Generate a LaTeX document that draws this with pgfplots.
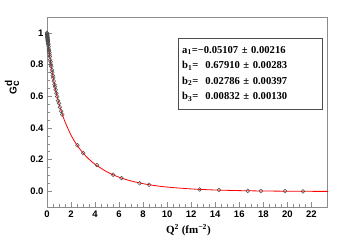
\documentclass[border=0pt]{standalone}
\usepackage{fontspec}
\setmainfont{Liberation Serif}
\setsansfont{Liberation Sans}
\usepackage{pgfplots}
\pgfplotsset{compat=1.18}
\pgfplotstableread{
q g
0.003 1.000
0.008 0.995
0.012 0.990
0.018 0.985
0.025 0.982
0.030 0.975
0.035 0.972
0.040 0.968
0.050 0.963
0.055 0.958
0.065 0.952
0.070 0.949
0.080 0.944
0.090 0.935
0.100 0.930
0.110 0.925
0.130 0.912
0.150 0.897
0.170 0.888
0.190 0.876
0.210 0.862
0.240 0.850
0.270 0.830
0.300 0.818
0.330 0.800
0.360 0.788
0.400 0.765
0.440 0.750
0.480 0.730
0.520 0.715
0.570 0.695
0.620 0.673
0.670 0.660
0.720 0.640
0.780 0.618
0.850 0.598
0.920 0.572
1.000 0.555
1.080 0.530
1.170 0.505
1.270 0.483
2.52 0.290
3.02 0.240
4.15 0.165
5.50 0.104
6.20 0.082
7.70 0.050
8.50 0.040
12.7 0.011
14.3 0.007
16.7 0.002
17.8 0.001
19.8 0.000
21.3 -0.001
}\datatab
\pgfplotstableread{
q g
0.0 1.0000
0.1 0.9314
0.2 0.8705
0.3 0.8162
0.4 0.7673
0.5 0.7231
0.75 0.6292
1.0 0.5532
1.25 0.4905
1.5 0.4378
2.0 0.3540
2.5 0.2906
3.0 0.2411
3.5 0.2015
4.0 0.1695
5.0 0.1214
6.0 0.0881
7.0 0.0644
8.0 0.0474
9.0 0.0350
10.0 0.0259
12.0 0.0141
14.0 0.0074
16.0 0.0035
18.0 0.0011
20.0 -0.0002
22.0 -0.0011
23.4 -0.0014
}\fittab
\begin{document}
\begin{tikzpicture}
\begin{axis}[name=ax,
  scale only axis, width=280pt, height=190pt,
  xmin=0, xmax=23.3, ymin=-0.1, ymax=1.1,
  xtick={0,2,...,22}, ytick={0,0.2,...,1.0},
  minor x tick num=3, minor y tick num=3,
  tick pos=left, tick align=inside,
  major tick length=5pt, minor tick length=3pt,
  axis line style={black!45}, tick style={black!45},
  ticklabel style={font=\sffamily\bfseries\fontsize{9.5}{10}\selectfont},
  /pgf/number format/assume math mode=true,
  yticklabel style={/pgf/number format/.cd, fixed, fixed zerofill, precision=1},
  xticklabel style={/pgf/number format/.cd, fixed, precision=0},
  yticklabels={0.0,0.2,0.4,0.6,0.8,1},
  every axis x label/.style={at={(rel axis cs:0.505,0)}, anchor=center, yshift=-23pt},
  every axis y label/.style={at={(rel axis cs:-0.125,0.63)}, anchor=center, rotate=90},
  xlabel={\fontsize{11}{12}\selectfont\bfseries Q\textsuperscript{2} (fm\textsuperscript{−2})},
  ylabel={\fontsize{10}{12}\selectfont$\textsf{\textbf{G}}^{\textsf{\textbf{d}}}_{\textsf{\textbf{c}}}$},
  clip=false,
]
\addplot[red, line width=0.8pt, smooth] table[x=q, y=g] {\fittab};
\addplot[only marks, mark=o, mark size=1.9pt, mark options={draw=black!70, line width=0.5pt}] table[x=q, y=g] {\datatab};
\node[draw=black!70, fill=white, anchor=north west, align=left, text width=136pt, inner sep=4pt, minimum height=71pt,
  font=\bfseries\fontsize{10.6}{15.5}\selectfont] at (rel axis cs:0.468,0.889)
  {a\textsubscript{1}=−0.05107 ± 0.00216\\
   b\textsubscript{1}=\ \ 0.67910 ± 0.00283\\
   b\textsubscript{2}=\ \ 0.02786 ± 0.00397\\
   b\textsubscript{3}=\ \ 0.00832 ± 0.00130};
\end{axis}
\pgfresetboundingbox
\path ([shift={(-47pt,-40pt)}]ax.south west) rectangle ([shift={(15pt,17pt)}]ax.north east);
\end{tikzpicture}
\end{document}
